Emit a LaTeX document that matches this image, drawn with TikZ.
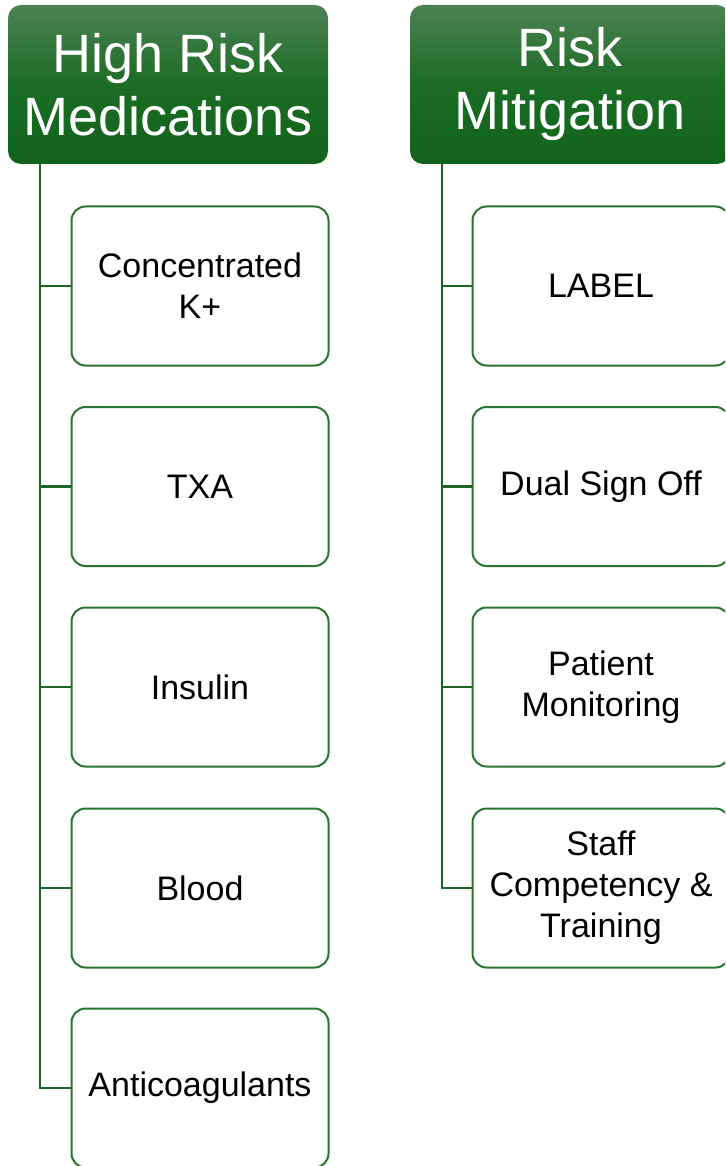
\documentclass[tikz,border=0pt]{standalone}
\usepackage{fontspec}
\setmainfont{Liberation Sans}
\begin{document}
\begin{tikzpicture}[x=1pt,y=-1pt,
  header/.style={rounded corners=13pt, top color=hdtop, bottom color=hdbot, middle color=hdmid,
    minimum width=320pt, minimum height=159pt, inner sep=0pt, text=white, align=center,
    font=\fontsize{54}{63}\selectfont},
  itembox/.style={draw=boxgreen, line width=2pt, rounded corners=14pt, fill=white,
    minimum width=257pt, minimum height=159pt, inner sep=0pt, align=center,
    font=\fontsize{34}{41}\selectfont},
  conn/.style={draw=linegreen, line width=2.2pt}]
\definecolor{hdtop}{RGB}{78,130,84}
\definecolor{hdmid}{RGB}{27,108,36}
\definecolor{hdbot}{RGB}{17,99,27}
\definecolor{boxgreen}{RGB}{40,118,46}
\definecolor{linegreen}{RGB}{30,102,36}
\useasboundingbox (0,0) rectangle (725,1166);
\clip (0,0) rectangle (725,1166);
% headers
\node[header] (h1) at (168,84.5) {High Risk\\Medications};
\node[header] (h2) at (570,84.5) {Risk\\Mitigation};
% left boxes
\node[itembox] (a1) at (200,286) {Concentrated\\K+};
\node[itembox] (a2) at (200,486.5) {TXA};
\node[itembox] (a3) at (200,687) {Insulin};
\node[itembox] (a4) at (200,888) {Blood};
\node[itembox] (a5) at (200,1088) {Anticoagulants};
% right boxes
\node[itembox] (b1) at (601,286) {LABEL};
\node[itembox] (b2) at (601,486.5) {Dual Sign Off};
\node[itembox] (b3) at (601,687) {Patient\\Monitoring};
\node[itembox] (b4) at (601,888) {Staff\\Competency \&\\Training};
% trunks
\coordinate (ta) at (40,0);
\coordinate (tb) at (442,0);
\draw[conn] (ta |- h1.south) |- (a5.west);
\foreach \k in {1,2,3,4} \draw[conn] (ta |- a\k.west) -- (a\k.west);
\draw[conn] (tb |- h2.south) |- (b4.west);
\foreach \k in {1,2,3} \draw[conn] (tb |- b\k.west) -- (b\k.west);
\end{tikzpicture}
\end{document}
